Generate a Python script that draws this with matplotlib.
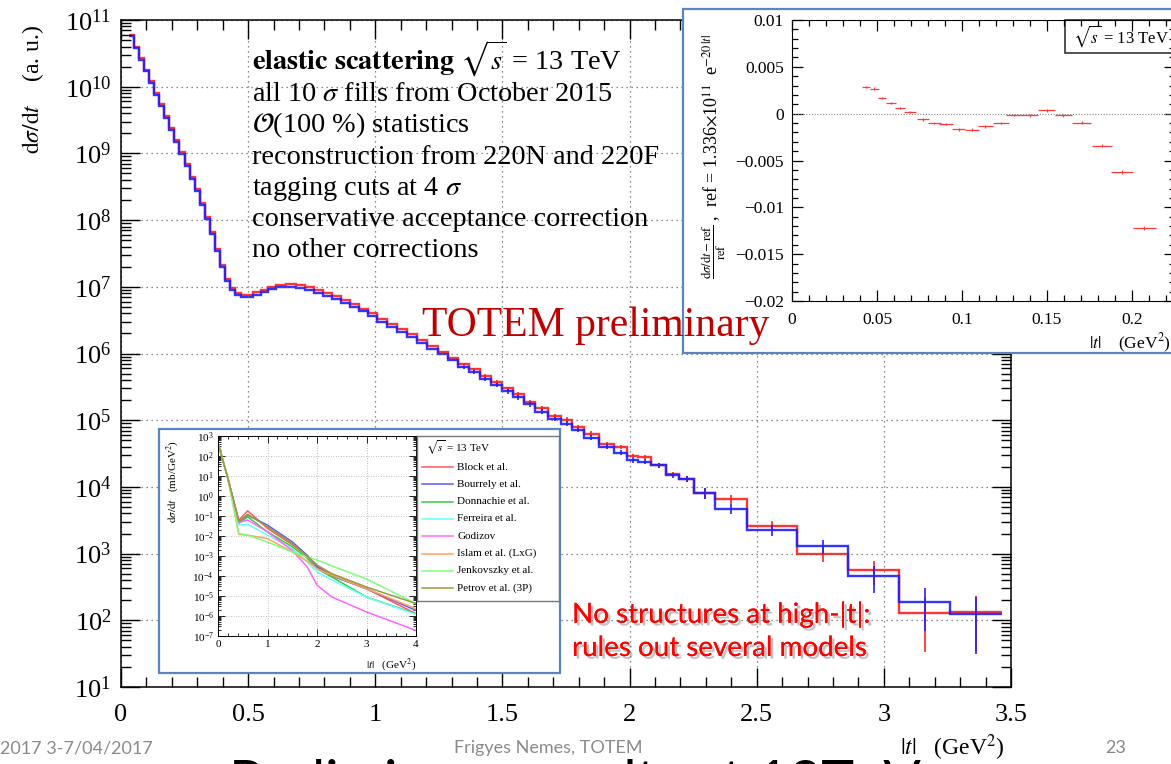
import matplotlib
matplotlib.use('Agg')
import matplotlib.pyplot as plt
import matplotlib.patheffects as pe
from matplotlib.patches import Rectangle
from matplotlib.lines import Line2D
from matplotlib.ticker import MultipleLocator, LogLocator, NullFormatter, FuncFormatter
import numpy as np

plt.rcParams['font.family'] = 'Liberation Serif'
plt.rcParams['mathtext.fontset'] = 'stix'

# ---------------- main histogram (|t| bins, dsigma/dt in a.u.) ----------------
edges = [0.03, 0.05, 0.07, 0.09, 0.11, 0.13, 0.15, 0.17, 0.19, 0.21, 0.23, 0.25,
         0.27, 0.29, 0.31, 0.33, 0.35, 0.37, 0.39, 0.41, 0.43, 0.45, 0.47, 0.49,
         0.52, 0.55, 0.58, 0.61, 0.65, 0.69, 0.725, 0.76, 0.795, 0.83, 0.865, 0.90,
         0.935, 0.97, 1.005, 1.045, 1.085, 1.125, 1.165, 1.205, 1.245, 1.285, 1.325,
         1.37, 1.41, 1.455, 1.50, 1.54, 1.585, 1.63, 1.68, 1.73, 1.775, 1.82, 1.88,
         1.94, 1.99, 2.035, 2.085, 2.145, 2.195, 2.255, 2.335, 2.46, 2.66, 2.86,
         3.06, 3.26, 3.465]

red_vals = [5.9e10, 4.0e10, 2.7e10, 1.8e10, 1.23e10, 8.1e9, 5.5e9, 3.6e9, 2.4e9,
            1.58e9, 1.05e9, 6.9e8, 4.5e8, 2.9e8, 1.8e8, 1.12e8, 6.6e7, 3.7e7, 2.1e7,
            1.32e7, 9.5e6, 8.1e6, 7.6e6,
            7.6e6, 8.3e6, 9.1e6, 1.0e7, 1.07e7, 1.10e7, 1.05e7, 9.8e6, 8.9e6, 8.1e6,
            7.2e6, 6.3e6, 5.5e6, 4.7e6, 4.0e6, 3.3e6, 2.75e6, 2.3e6, 1.95e6, 1.58e6,
            1.29e6, 1.07e6, 8.7e5,
            6.9e5, 5.8e5, 4.6e5, 3.7e5, 3.0e5, 2.45e5, 1.9e5, 1.5e5, 1.17e5, 1.02e5,
            7.9e4, 6.3e4, 4.4e4, 4.0e4,
            2.9e4, 2.8e4, 2.1e4, 1.55e4, 1.32e4, 8.1e3, 6.6e3, 2.6e3, 1.0e3, 5.6e2,
            1.29e2, 1.32e2]

blue_vals = [5.8e10, 3.8e10, 2.55e10, 1.7e10, 1.15e10, 7.6e9, 5.1e9, 3.4e9, 2.25e9,
             1.48e9, 9.8e8, 6.4e8, 4.2e8, 2.7e8, 1.7e8, 1.04e8, 6.1e7, 3.4e7, 1.95e7,
             1.22e7, 8.9e6, 7.6e6, 7.1e6,
             7.1e6, 7.6e6, 8.3e6, 9.2e6, 9.8e6, 1.0e7, 9.7e6, 9.0e6, 8.1e6, 7.4e6,
             6.6e6, 5.8e6, 5.0e6, 4.3e6, 3.65e6, 3.0e6, 2.5e6, 2.1e6, 1.78e6, 1.45e6,
             1.18e6, 9.8e5, 8.0e5,
             6.2e5, 5.3e5, 4.1e5, 3.35e5, 2.7e5, 2.2e5, 1.72e5, 1.35e5, 1.05e5, 8.9e4,
             7.1e4, 5.5e4, 4.0e4, 3.25e4,
             2.5e4, 2.4e4, 2.1e4, 1.5e4, 1.32e4, 8.1e3, 4.7e3, 2.24e3, 1.29e3, 4.6e2,
             1.86e2, 1.26e2]

# uncertainties of the last bins (from |t| = 1.325 on)
red_tail_err = [4e4, 3.5e4, 3e4, 2.5e4, 2e4, 1.7e4, 1.4e4, 1.1e4, 9e3, 8e3, 6e3, 5e3,
                3.5e3, 3.2e3,
                2000, 2000, 1700, 1400, 1300, 1400, 1000, 450, 260, 220, 95, 97]
blue_tail_err = [3.7e4, 3.2e4, 2.7e4, 2.3e4, 1.9e4, 1.6e4, 1.3e4, 1e4, 8e3, 7e3, 5.5e3,
                 4.5e3, 3.3e3, 2.8e3,
                 1900, 1900, 1700, 1400, 1300, 1400, 800, 420, 290, 200, 116, 95]

# ---------------- top-right inset: relative difference to reference ----------------
res_t = [0.0435, 0.0485, 0.053, 0.0582, 0.0635, 0.0694, 0.0769, 0.0837, 0.0906, 0.098,
         0.1059, 0.1137, 0.123, 0.1308, 0.14, 0.1498, 0.1596, 0.1704, 0.1821, 0.194, 0.2073]
res_v = [0.00285, 0.00268, 0.00168, 0.00114, 0.0006, 0.00014, -0.00061, -0.001, -0.0011,
         -0.00168, -0.0017, -0.00136, -0.00097, -0.00015, -0.00018, 0.00036, -0.00018,
         -0.00097, -0.00343, -0.00625, -0.01225]
res_dt = [0.0024, 0.0024, 0.0025, 0.0027, 0.0031, 0.0033, 0.0035, 0.0037, 0.0039, 0.0039,
          0.0043, 0.0043, 0.0049, 0.0049, 0.0049, 0.0049, 0.0049, 0.0055, 0.0059, 0.0065,
          0.0069]
res_dv = [0.00012, 0.00012, 0.00012, 0.00012, 0.00012, 0.00012, 0.00012, 0.00012, 0.00012,
          0.00012, 0.00012, 0.00012, 0.00013, 0.00013, 0.00014, 0.00014, 0.00015, 0.00016,
          0.00018, 0.0002, 0.00022]

# ---------------- bottom-left inset: model predictions (mb/GeV^2) ----------------
model_t = [0.0, 0.2, 0.42, 0.6, 1.0, 1.5, 1.8, 2.0, 2.3, 3.0, 4.0]
model_names = ['Block et al.', 'Bourrely et al.', 'Donnachie et al.', 'Ferreira et al.',
               'Godizov', 'Islam et al. (LxG)', 'Jenkovszky et al.', 'Petrov et al. (3P)']
model_colors = ['#ff5a5a', '#5a5aff', '#3cc83c', '#66ffff', '#ff66ff', '#ffa060',
                '#7dff7d', '#9a9a3a']
block = [4.5e2, 7.6, 6.2e-2, 1.8e-1, 2.4e-2, 3.7e-3, 1.0e-3, 3.5e-4, 1.1e-4, 2.3e-5, 1.3e-6]
bourrely = [4.5e2, 7.6, 5.1e-2, 1.1e-1, 3.5e-2, 5.1e-3, 1.1e-3, 2.9e-4, 1.0e-4, 2.3e-5, 1.9e-6]
donnachie = [4.5e2, 7.6, 4.3e-2, 9.1e-2, 1.6e-2, 2.9e-3, 7.9e-4, 2.3e-4, 8.9e-5, 8.9e-6, 1.3e-6]
ferreira = [4.5e2, 7.6, 3.5e-2, 3.9e-2, 1.1e-2, 2.3e-3, 5.0e-4, 1.6e-4, 6.3e-5, 8.9e-6, 1.2e-6]
godizov = [4.5e2, 7.6, 4.8e-2, 6.3e-2, 1.6e-2, 1.9e-3, 2.9e-4, 3.5e-5, 8.9e-6, 1.6e-6, 1.9e-7]
islam = [4.5e2, 7.6, 1.2e-2, 1.1e-2, 7.4e-3, 1.6e-3, 5.6e-4, 2.3e-4, 1.1e-4, 2.3e-5, 2.3e-6]
jenkovszky = [4.5e2, 7.6, 1.35e-2, 1.1e-2, 5.0e-3, 1.6e-3, 8.9e-4, 6.3e-4, 3.2e-4, 7.1e-5, 4.2e-6]
petrov = [4.5e2, 7.6, 5.5e-2, 1.2e-1, 2.9e-2, 4.2e-3, 1.0e-3, 3.5e-4, 1.3e-4, 2.8e-5, 4.2e-6]
model_vals = [block, bourrely, donnachie, ferreira, godizov, islam, jenkovszky, petrov]

info_lines = [r'$\mathbf{elastic\ scattering}$ $\sqrt{s}$ = 13 TeV',
              r'all 10 $\sigma$ fills from October 2015',
              r'$\mathcal{O}$(100 %) statistics',
              'reconstruction from 220N and 220F',
              r'tagging cuts at 4 $\sigma$',
              'conservative acceptance correction',
              'no other corrections']

W, H = 1171, 764


def box(x0, y0, x1, y1):
    """pixel box (top-left origin) -> figure fraction [l, b, w, h]"""
    return [x0 / W, 1 - y1 / H, (x1 - x0) / W, (y1 - y0) / H]


def fx(px):
    return px / W


def fy(py):
    return 1 - py / H


def num_fmt(v, _):
    s = '%g' % v
    return s.replace('-', '\u2212')


fig = plt.figure(figsize=(W / 100, H / 100), dpi=100)

# ---------------- main plot ----------------
ax = fig.add_axes(box(121, 20, 1011, 687))
edges_a = np.array(edges)
centers = 0.5 * (edges_a[:-1] + edges_a[1:])
ax.stairs(red_vals, edges, color='#ff1e1e', lw=1.7, baseline=None, alpha=0.9)
ax.stairs(blue_vals, edges, color='#1e1eff', lw=1.7, baseline=None, alpha=0.9)
n = len(red_tail_err)
ax.errorbar(centers[-n:], red_vals[-n:], yerr=red_tail_err, fmt='none',
            ecolor='#ff1e1e', elinewidth=1.3, alpha=0.9)
ax.errorbar(centers[-n:], blue_vals[-n:], yerr=blue_tail_err, fmt='none',
            ecolor='#1e1eff', elinewidth=1.3, alpha=0.9)

ax.set_yscale('log')
ax.set_xlim(0, 3.5)
ax.set_ylim(10, 1e11)
ax.xaxis.set_major_locator(MultipleLocator(0.5))
ax.xaxis.set_minor_locator(MultipleLocator(0.1))
ax.xaxis.set_major_formatter(FuncFormatter(num_fmt))
ax.yaxis.set_major_locator(LogLocator(base=10, numticks=20))
ax.yaxis.set_minor_locator(LogLocator(base=10, subs=np.arange(2, 10), numticks=20))
ax.yaxis.set_minor_formatter(NullFormatter())
ax.tick_params(which='both', direction='in', top=True, right=True, width=1.0)
ax.tick_params(which='major', length=14, labelsize=19)
ax.tick_params(which='minor', length=7)
ax.tick_params(axis='x', pad=12)
ax.tick_params(axis='y', pad=7)
ax.grid(True, which='major', ls=(0, (1, 3)), color='#666666', lw=0.9)
for s in ax.spines.values():
    s.set_linewidth(1.1)

fig.text(fx(33), fy(25), r'$\mathrm{d}\sigma/\mathrm{d}t$    (a. u.)', rotation=90,
         ha='center', va='top', fontsize=17)
fig.text(fx(1005), fy(748), r'$|t|$   (GeV$^2$)', ha='right', va='center', fontsize=17,
         zorder=5)

for i, line in enumerate(info_lines):
    fig.text(fx(252), fy(70 + 31.2 * i), line, ha='left', va='baseline', fontsize=20.3)

# ---------------- top-right inset ----------------
fig.add_artist(Rectangle((fx(683), fy(353)), fx(1200 - 683), 344 / H,
                         transform=fig.transFigure, facecolor='white',
                         edgecolor='#5a86c0', lw=1.6, zorder=1))
ax1 = fig.add_axes(box(792, 20, 1174.5, 301))
ax1.set_zorder(2)
ax1.axhline(0, color='#888888', ls=(0, (1, 1.5)), lw=0.8)
ax1.errorbar(res_t, res_v, xerr=res_dt, yerr=res_dv, fmt='none', ecolor='#ff3a3a',
             elinewidth=0.9)
ax1.set_xlim(0, 0.225)
ax1.set_ylim(-0.02, 0.01)
ax1.xaxis.set_major_locator(MultipleLocator(0.05))
ax1.xaxis.set_minor_locator(MultipleLocator(0.01))
ax1.yaxis.set_major_locator(MultipleLocator(0.005))
ax1.yaxis.set_minor_locator(MultipleLocator(0.001))
ax1.xaxis.set_major_formatter(FuncFormatter(num_fmt))
ax1.yaxis.set_major_formatter(FuncFormatter(num_fmt))
ax1.tick_params(which='both', direction='in', top=True, right=True, width=0.9)
ax1.tick_params(which='major', length=8, labelsize=12.5)
ax1.tick_params(which='minor', length=4)
ax1.tick_params(axis='x', pad=8)
ax1.tick_params(axis='y', pad=6)
ax1.add_patch(Rectangle((0.714, 0.883), 0.4, 0.117, transform=ax1.transAxes,
                        facecolor='white', edgecolor='#333333', lw=1.2, clip_on=False))
ax1.text(0.735, 0.943, r'$\sqrt{s}$ = 13 TeV', transform=ax1.transAxes, ha='left',
         va='center', fontsize=12)
fig.text(fx(714), fy(156),
         r'$\frac{\mathrm{d}\sigma/\mathrm{d}t-\mathrm{ref}}{\mathrm{ref}}$ ,  '
         r'ref = 1.336$\times$10$^{11}$  e$^{-20\,|t|}$',
         rotation=90, ha='center', va='center', fontsize=13, zorder=4)
fig.text(fx(1171), fy(343), r'$|t|$    (GeV$^2$)', ha='right', va='center',
         fontsize=12.5, zorder=4)

# ---------------- bottom-left inset ----------------
fig.add_artist(Rectangle((fx(159), fy(673)), fx(560 - 159), 244 / H,
                         transform=fig.transFigure, facecolor='white',
                         edgecolor='#5a86c0', lw=1.6, zorder=1))
ax2 = fig.add_axes(box(218, 436, 416, 636))
ax2.set_zorder(2)
for vals, col in zip(model_vals, model_colors):
    ax2.plot(model_t, vals, color=col, lw=1.1)
ax2.set_yscale('log')
ax2.set_xlim(0, 4)
ax2.set_ylim(1e-7, 1e3)
ax2.xaxis.set_major_locator(MultipleLocator(1))
ax2.xaxis.set_minor_locator(MultipleLocator(0.2))
ax2.xaxis.set_major_formatter(FuncFormatter(num_fmt))
ax2.yaxis.set_major_locator(LogLocator(base=10, numticks=20))
ax2.yaxis.set_minor_locator(LogLocator(base=10, subs=np.arange(2, 10), numticks=20))
ax2.yaxis.set_minor_formatter(NullFormatter())
ax2.tick_params(which='both', direction='in', top=True, right=True, width=0.6)
ax2.tick_params(which='major', length=5, labelsize=8, pad=3)
ax2.tick_params(which='minor', length=2.5)
ax2.grid(True, which='major', ls=(0, (1, 2)), color='#aaaaaa', lw=0.6)
for s in ax2.spines.values():
    s.set_linewidth(0.7)
fig.text(fx(173), fy(440), r'$\mathrm{d}\sigma/\mathrm{d}t$   (mb/GeV$^2$)', rotation=90,
         ha='center', va='top', fontsize=8, zorder=4)
fig.text(fx(416), fy(665), r'$|t|$   (GeV$^2$)', ha='right', va='center', fontsize=8,
         zorder=4)

# legend of the model inset
axl = fig.add_axes(box(417, 436, 559, 601))
axl.set_zorder(3)
axl.set_xlim(0, 1)
axl.set_ylim(601, 436)
axl.set_xticks([])
axl.set_yticks([])
for s in axl.spines.values():
    s.set_color('#777777')
    s.set_linewidth(1.0)
axl.text(0.06, 448, r'$\sqrt{s}$ = 13 TeV', ha='left', va='center', fontsize=8)
for i, (name, col) in enumerate(zip(model_names, model_colors)):
    yy = 467 + 17.3 * i
    axl.add_line(Line2D([0.035, 0.255], [yy, yy], color=col, lw=1.1))
    axl.text(0.282, yy, name, ha='left', va='center', fontsize=8)

# ---------------- annotations ----------------
fig.text(fx(596), fy(326), 'TOTEM preliminary', ha='center', va='center', fontsize=30,
         color='#c00000', zorder=10)

shadow = [pe.withSimplePatchShadow(offset=(2, -2), shadow_rgbFace='#777777', alpha=0.45),
          pe.Normal()]
sans = ['Liberation Sans Narrow', 'Lato']
fig.text(fx(572), fy(614), 'No structures at high-|t|:', ha='left', va='center',
         fontsize=20, color='#ff0000', family=sans, path_effects=shadow, zorder=10)
fig.text(fx(572), fy(648), 'rules out several models', ha='left', va='center',
         fontsize=20, color='#ff0000', family=sans, path_effects=shadow, zorder=10)

# footer of the slide
foot = dict(color='#8a8a8a', fontsize=13, family=sans, va='center')
fig.text(fx(0), fy(748), '2017 3-7/04/2017', ha='left', **foot)
fig.text(fx(548), fy(748), 'Frigyes Nemes, TOTEM', ha='center', **foot)
fig.text(fx(1116), fy(748), '23', ha='center', **foot)

# slide title, only its top edge is inside the picture
fig.text(fx(575), fy(800), 'Preliminary results at 13TeV', ha='center', va='baseline',
         fontsize=40, color='black', family=['Lato'], zorder=0)

fig.savefig('out.png', dpi=100)
